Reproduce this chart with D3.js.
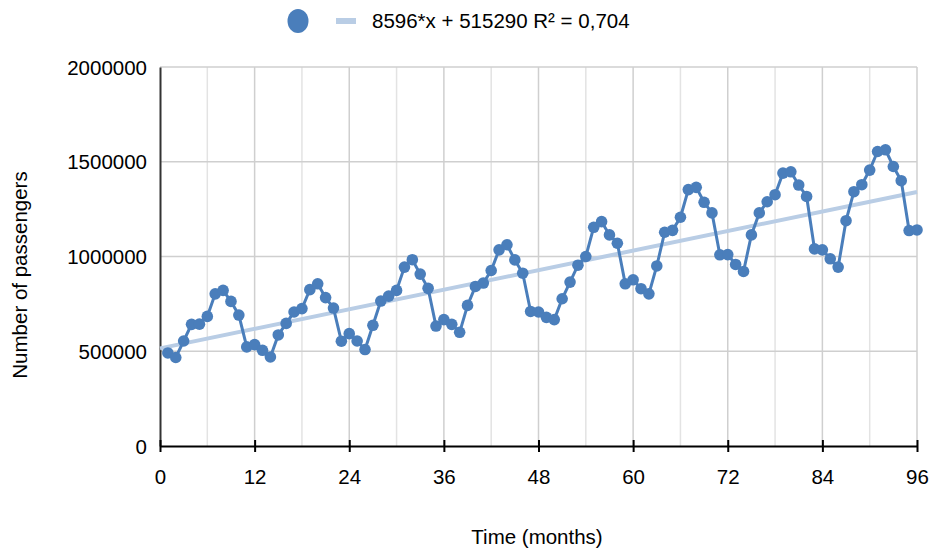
<!DOCTYPE html>
<html>
<head>
<meta charset="utf-8">
<script src="https://cdn.jsdelivr.net/npm/d3@7"></script>
<style>
  html, body { margin: 0; padding: 0; background: #fff; }
  svg text { font-family: "Liberation Sans", Arial, sans-serif; fill: #000; }
</style>
</head>
<body>
<svg id="chart" width="932" height="548"></svg>
<script>
// Monthly passenger counts, months 1..96
const months = d3.range(1, 97);
const passengers = [
  491000, 467000, 554000, 642000, 643000, 684000, 803000, 821000, 763000, 691000, 523000, 535000,
  505000, 470000, 586000, 647000, 707000, 725000, 825000, 856000, 783000, 728000, 553000, 593000,
  554000, 509000, 637000, 765000, 791000, 821000, 944000, 983000, 907000, 832000, 633000, 667000,
  642000, 600000, 742000, 842000, 860000, 926000, 1035000, 1062000, 982000, 912000, 710000, 707000,
  679000, 667000, 777000, 865000, 954000, 1000000, 1154000, 1184000, 1114000, 1070000, 856000, 877000,
  830000, 803000, 950000, 1128000, 1138000, 1207000, 1353000, 1365000, 1286000, 1230000, 1009000, 1010000,
  958000, 921000, 1114000, 1230000, 1289000, 1326000, 1440000, 1447000, 1377000, 1317000, 1040000, 1035000,
  988000, 944000, 1189000, 1342000, 1379000, 1456000, 1554000, 1563000, 1475000, 1400000, 1137000, 1140000
];

// Linear trend shown in the legend
const trendSlope = 8596;
const trendIntercept = 515290;
const trendLabel = "8596*x + 515290 R² = 0,704";

const xTicks = [0, 12, 24, 36, 48, 60, 72, 84, 96];
const xMinorGrid = [6, 18, 30, 42, 54, 66, 78, 90];
const yTicks = [0, 500000, 1000000, 1500000, 2000000];

const xTitle = "Time (months)";
const yTitle = "Number of passengers";

const seriesColor = "#4a7ebb";
const trendColor = "#b9cde5";
const fontSize = 20.5;

const svg = d3.select("#chart");
const plot = { left: 160, right: 917, top: 67, bottom: 446 };

const x = d3.scaleLinear().domain([0, 96]).range([plot.left, plot.right]);
const y = d3.scaleLinear().domain([0, 2000000]).range([plot.bottom, plot.top]);

// Grid lines
const grid = svg.append("g");
grid.selectAll("line.vminor").data(xMinorGrid).join("line")
  .attr("x1", d => x(d)).attr("x2", d => x(d))
  .attr("y1", plot.top).attr("y2", plot.bottom)
  .attr("stroke", "#e3e3e3").attr("stroke-width", 1.5);
grid.selectAll("line.vmajor").data(xTicks.slice(1)).join("line")
  .attr("x1", d => x(d)).attr("x2", d => x(d))
  .attr("y1", plot.top).attr("y2", plot.bottom)
  .attr("stroke", "#cfcfcf").attr("stroke-width", 1.5);
grid.selectAll("line.h").data(yTicks.slice(1)).join("line")
  .attr("x1", plot.left).attr("x2", plot.right)
  .attr("y1", d => y(d)).attr("y2", d => y(d))
  .attr("stroke", "#cfcfcf").attr("stroke-width", 1.5);

// Y axis
const yAxis = svg.append("g").attr("transform", `translate(${plot.left},0)`)
  .call(d3.axisLeft(y).tickValues(yTicks).tickSize(0).tickPadding(13).tickFormat(d3.format("d")));
yAxis.select(".domain").attr("stroke", "#333").attr("stroke-width", 2);
yAxis.selectAll("text").attr("font-size", fontSize).attr("dy", "0.35em");

// X axis with ticks crossing the axis line
const xAxis = svg.append("g").attr("transform", `translate(0,${plot.bottom})`)
  .call(d3.axisBottom(x).tickValues(xTicks).tickSize(0).tickPadding(23).tickFormat(d3.format("d")));
xAxis.select(".domain").attr("stroke", "#000").attr("stroke-width", 2);
xAxis.selectAll("text").attr("font-size", fontSize);
xAxis.selectAll(".tick").append("line")
  .attr("y1", -6).attr("y2", 6).attr("stroke", "#000").attr("stroke-width", 2);

// Trend line
svg.append("line")
  .attr("x1", x(0)).attr("y1", y(trendIntercept))
  .attr("x2", x(96)).attr("y2", y(trendIntercept + trendSlope * 96))
  .attr("stroke", trendColor).attr("stroke-width", 4);

// Series line and markers
const pts = months.map((m, i) => [m, passengers[i]]);
svg.append("path").datum(pts)
  .attr("fill", "none").attr("stroke", seriesColor).attr("stroke-width", 3)
  .attr("d", d3.line().x(d => x(d[0])).y(d => y(d[1])));
svg.append("g").selectAll("circle").data(pts).join("circle")
  .attr("cx", d => x(d[0])).attr("cy", d => y(d[1])).attr("r", 5.8)
  .attr("fill", seriesColor);

// Legend
const legend = svg.append("g");
legend.append("ellipse").attr("cx", 298).attr("cy", 21).attr("rx", 10.5).attr("ry", 12)
  .attr("fill", seriesColor);
legend.append("rect").attr("x", 336).attr("y", 18).attr("width", 20).attr("height", 6)
  .attr("fill", trendColor);
legend.append("text").attr("x", 372).attr("y", 21).attr("dy", "0.35em")
  .attr("font-size", fontSize).text(trendLabel);

// Axis titles
svg.append("text").attr("x", 537).attr("y", 537)
  .attr("dy", "0.35em").attr("text-anchor", "middle").attr("font-size", fontSize).text(xTitle);
svg.append("text").attr("transform", "translate(20,275) rotate(-90)")
  .attr("dy", "0.35em").attr("text-anchor", "middle").attr("font-size", fontSize).text(yTitle);
</script>
</body>
</html>
